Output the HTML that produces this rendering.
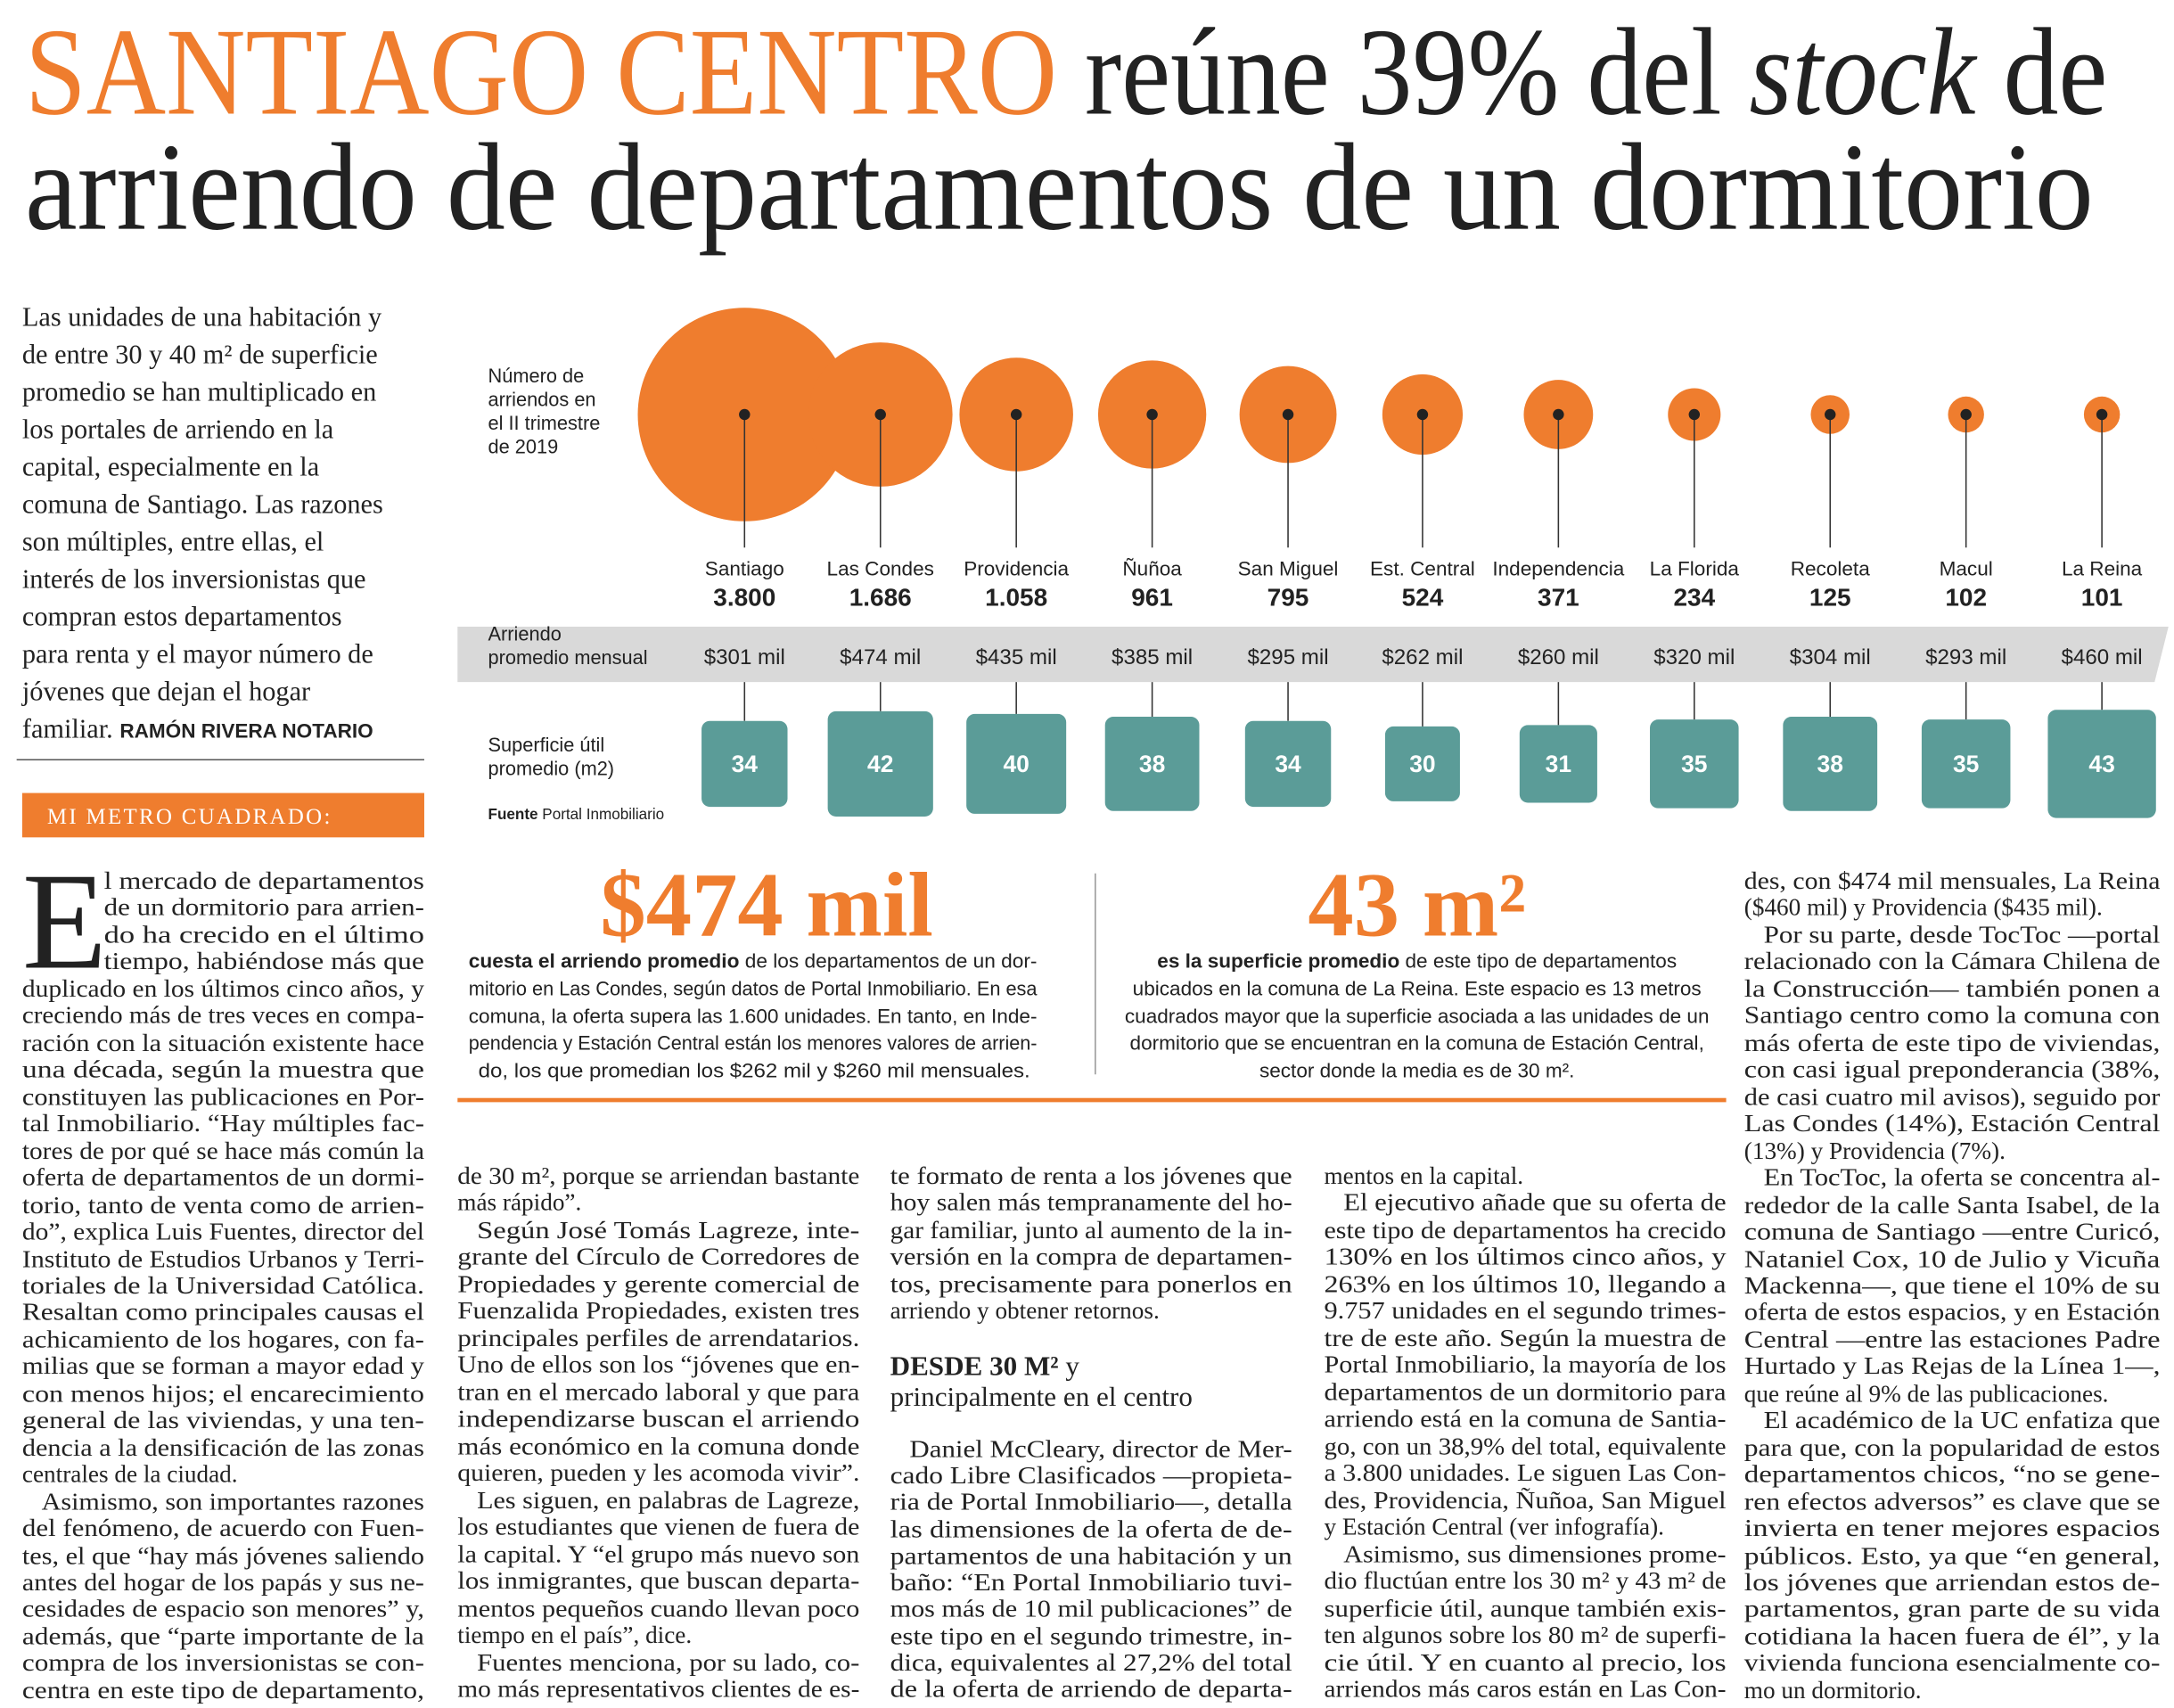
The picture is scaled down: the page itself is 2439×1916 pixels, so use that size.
<!DOCTYPE html>
<html><head><meta charset="utf-8"><style>
html,body{margin:0;padding:0;background:#fff}
svg{display:block}
.t{font-family:"Liberation Serif",serif;font-size:17.5px;fill:#222}
.s{font-family:"Liberation Sans",sans-serif;fill:#222}
.i{font-family:"Liberation Serif",serif;font-size:19.5px;fill:#222}
</style></head><body>
<svg width="2439" height="1916" viewBox="0 0 1568 1232" preserveAspectRatio="none" xmlns="http://www.w3.org/2000/svg">
<rect width="1568" height="1232" fill="#fff"/>
<!-- Title -->
<text x="18" y="82" font-family="Liberation Serif,serif" font-size="90" textLength="1502" lengthAdjust="spacingAndGlyphs" fill="#222"><tspan fill="#ef7d2e">SANTIAGO CENTRO</tspan> reúne 39% del <tspan font-style="italic">stock</tspan> de</text>
<text x="18" y="165" font-family="Liberation Serif,serif" font-size="90" textLength="1492" lengthAdjust="spacingAndGlyphs" fill="#222">arriendo de departamentos de un dormitorio</text>

<!-- Intro -->
<g class="i">
<text x="16" y="235">Las unidades de una habitación y</text>
<text x="16" y="262">de entre 30 y 40 m² de superficie</text>
<text x="16" y="289">promedio se han multiplicado en</text>
<text x="16" y="316">los portales de arriendo en la</text>
<text x="16" y="343">capital, especialmente en la</text>
<text x="16" y="370">comuna de Santiago. Las razones</text>
<text x="16" y="397">son múltiples, entre ellas, el</text>
<text x="16" y="424">interés de los inversionistas que</text>
<text x="16" y="451">compran estos departamentos</text>
<text x="16" y="478">para renta y el mayor número de</text>
<text x="16" y="505">jóvenes que dejan el hogar</text>
<text x="16" y="532">familiar. <tspan font-family="Liberation Sans,sans-serif" font-weight="bold" font-size="14.5">RAMÓN RIVERA NOTARIO</tspan></text>
</g>
<line x1="12" y1="548" x2="306" y2="548" stroke="#555" stroke-width="1"/>
<rect x="16" y="572" width="290" height="32" fill="#ef7d2e"/>
<text x="34" y="594" font-family="Liberation Serif,serif" font-size="16" fill="#fff" letter-spacing="1.5">MI METRO CUADRADO:</text>

<!-- Chart labels -->
<g class="s" font-size="14">
<text x="352" y="276">Número de</text>
<text x="352" y="293">arriendos en</text>
<text x="352" y="310">el II trimestre</text>
<text x="352" y="327">de 2019</text>
</g>
<polygon points="330,452 1564,452 1554,492 330,492" fill="#d9d9d9"/>
<g class="s" font-size="14">
<text x="352" y="462">Arriendo</text>
<text x="352" y="479">promedio mensual</text>
<text x="352" y="542">Superficie útil</text>
<text x="352" y="559">promedio (m2)</text>
</g>
<text x="352" y="591" class="s" font-size="11"><tspan font-weight="bold">Fuente</tspan> Portal Inmobiliario</text>

<!-- bubbles -->
<g fill="#ef7d2e">
<circle cx="537" cy="299" r="77"/>
<circle cx="635" cy="299" r="52"/>
<circle cx="733" cy="299" r="41"/>
<circle cx="831" cy="299" r="39"/>
<circle cx="929" cy="299" r="35"/>
<circle cx="1026" cy="299" r="29"/>
<circle cx="1124" cy="299" r="25"/>
<circle cx="1222" cy="299" r="19"/>
<circle cx="1320" cy="299" r="14"/>
<circle cx="1418" cy="299" r="13"/>
<circle cx="1516" cy="299" r="13"/>
</g>
<g stroke="#333" stroke-width="1">
<line x1="537" y1="299" x2="537" y2="395"/><line x1="635" y1="299" x2="635" y2="395"/><line x1="733" y1="299" x2="733" y2="395"/><line x1="831" y1="299" x2="831" y2="395"/><line x1="929" y1="299" x2="929" y2="395"/><line x1="1026" y1="299" x2="1026" y2="395"/><line x1="1124" y1="299" x2="1124" y2="395"/><line x1="1222" y1="299" x2="1222" y2="395"/><line x1="1320" y1="299" x2="1320" y2="395"/><line x1="1418" y1="299" x2="1418" y2="395"/><line x1="1516" y1="299" x2="1516" y2="395"/>
<line x1="537" y1="492" x2="537" y2="520"/><line x1="635" y1="492" x2="635" y2="513"/><line x1="733" y1="492" x2="733" y2="515"/><line x1="831" y1="492" x2="831" y2="517"/><line x1="929" y1="492" x2="929" y2="520"/><line x1="1026" y1="492" x2="1026" y2="524"/><line x1="1124" y1="492" x2="1124" y2="523"/><line x1="1222" y1="492" x2="1222" y2="519"/><line x1="1320" y1="492" x2="1320" y2="517"/><line x1="1418" y1="492" x2="1418" y2="519"/><line x1="1516" y1="492" x2="1516" y2="512"/>
</g>
<g fill="#222">
<circle cx="537" cy="299" r="4"/><circle cx="635" cy="299" r="4"/><circle cx="733" cy="299" r="4"/><circle cx="831" cy="299" r="4"/><circle cx="929" cy="299" r="4"/><circle cx="1026" cy="299" r="4"/><circle cx="1124" cy="299" r="4"/><circle cx="1222" cy="299" r="4"/><circle cx="1320" cy="299" r="4"/><circle cx="1418" cy="299" r="4"/><circle cx="1516" cy="299" r="4"/>
</g>
<g class="s" font-size="14.5" text-anchor="middle">
<text x="537" y="415">Santiago</text><text x="635" y="415">Las Condes</text><text x="733" y="415">Providencia</text><text x="831" y="415">Ñuñoa</text><text x="929" y="415">San Miguel</text><text x="1026" y="415">Est. Central</text><text x="1124" y="415">Independencia</text><text x="1222" y="415">La Florida</text><text x="1320" y="415">Recoleta</text><text x="1418" y="415">Macul</text><text x="1516" y="415">La Reina</text>
</g>
<g class="s" font-size="18" font-weight="bold" text-anchor="middle">
<text x="537" y="437">3.800</text><text x="635" y="437">1.686</text><text x="733" y="437">1.058</text><text x="831" y="437">961</text><text x="929" y="437">795</text><text x="1026" y="437">524</text><text x="1124" y="437">371</text><text x="1222" y="437">234</text><text x="1320" y="437">125</text><text x="1418" y="437">102</text><text x="1516" y="437">101</text>
</g>
<g class="s" font-size="15.5" text-anchor="middle">
<text x="537" y="479">$301 mil</text><text x="635" y="479">$474 mil</text><text x="733" y="479">$435 mil</text><text x="831" y="479">$385 mil</text><text x="929" y="479">$295 mil</text><text x="1026" y="479">$262 mil</text><text x="1124" y="479">$260 mil</text><text x="1222" y="479">$320 mil</text><text x="1320" y="479">$304 mil</text><text x="1418" y="479">$293 mil</text><text x="1516" y="479">$460 mil</text>
</g>
<g fill="#5b9c98">
<rect x="506" y="520" width="62" height="62" rx="6"/>
<rect x="597" y="513" width="76" height="76" rx="6"/>
<rect x="697" y="515" width="72" height="72" rx="6"/>
<rect x="797" y="517" width="68" height="68" rx="6"/>
<rect x="898" y="520" width="62" height="62" rx="6"/>
<rect x="999" y="524" width="54" height="54" rx="6"/>
<rect x="1096" y="523" width="56" height="56" rx="6"/>
<rect x="1190" y="519" width="64" height="64" rx="6"/>
<rect x="1286" y="517" width="68" height="68" rx="6"/>
<rect x="1386" y="519" width="64" height="64" rx="6"/>
<rect x="1477" y="512" width="78" height="78" rx="6"/>
</g>
<g class="s" font-size="17" font-weight="bold" text-anchor="middle" style="fill:#fff">
<text x="537" y="557">34</text><text x="635" y="557">42</text><text x="733" y="557">40</text><text x="831" y="557">38</text><text x="929" y="557">34</text><text x="1026" y="557">30</text><text x="1124" y="557">31</text><text x="1222" y="557">35</text><text x="1320" y="557">38</text><text x="1418" y="557">35</text><text x="1516" y="557">43</text>
</g>

<!-- Stats -->
<text x="553" y="675" text-anchor="middle" font-family="Liberation Serif,serif" font-weight="bold" font-size="66" fill="#ef7d2e">$474 mil</text>
<text x="1022" y="675" text-anchor="middle" font-family="Liberation Serif,serif" font-weight="bold" font-size="66" fill="#ef7d2e">43 m²</text>
<g class="s" font-size="14.5">
<text x="338" y="698" textLength="410" lengthAdjust="spacingAndGlyphs"><tspan font-weight="bold">cuesta el arriendo promedio</tspan> de los departamentos de un dor-</text>
<text x="338" y="718" textLength="410" lengthAdjust="spacingAndGlyphs">mitorio en Las Condes, según datos de Portal Inmobiliario. En esa</text>
<text x="338" y="738" textLength="410" lengthAdjust="spacingAndGlyphs">comuna, la oferta supera las 1.600 unidades. En tanto, en Inde-</text>
<text x="338" y="757" textLength="410" lengthAdjust="spacingAndGlyphs">pendencia y Estación Central están los menores valores de arrien-</text>
<text x="345" y="777" textLength="398" lengthAdjust="spacingAndGlyphs">do, los que promedian los $262 mil y $260 mil mensuales.</text>
</g>
<g class="s" font-size="14.5" text-anchor="middle">
<text x="1022" y="698"><tspan font-weight="bold">es la superficie promedio</tspan> de este tipo de departamentos</text>
<text x="1022" y="718">ubicados en la comuna de La Reina. Este espacio es 13 metros</text>
<text x="1022" y="738">cuadrados mayor que la superficie asociada a las unidades de un</text>
<text x="1022" y="757">dormitorio que se encuentran en la comuna de Estación Central,</text>
<text x="1022" y="777">sector donde la media es de 30 m².</text>
</g>
<line x1="790" y1="630" x2="790" y2="775" stroke="#999" stroke-width="1"/>
<rect x="330" y="792" width="915" height="3" fill="#ef7d2e"/>

<!-- Left column -->
<text x="16" y="698" font-family="Liberation Serif,serif" font-size="100" fill="#222">E</text>
<g class="t">
<text x="75" y="641" textLength="231" lengthAdjust="spacingAndGlyphs">l mercado de departamentos</text>
<text x="75" y="660" textLength="231" lengthAdjust="spacingAndGlyphs">de un dormitorio para arrien-</text>
<text x="75" y="680" textLength="231" lengthAdjust="spacingAndGlyphs">do ha crecido en el último</text>
<text x="75" y="699" textLength="231" lengthAdjust="spacingAndGlyphs">tiempo, habiéndose más que</text>
<text x="16" y="719" textLength="290" lengthAdjust="spacingAndGlyphs">duplicado en los últimos cinco años, y</text>
<text x="16" y="738" textLength="290" lengthAdjust="spacingAndGlyphs">creciendo más de tres veces en compa-</text>
<text x="16" y="758" textLength="290" lengthAdjust="spacingAndGlyphs">ración con la situación existente hace</text>
<text x="16" y="777" textLength="290" lengthAdjust="spacingAndGlyphs">una década, según la muestra que</text>
<text x="16" y="797" textLength="290" lengthAdjust="spacingAndGlyphs">constituyen las publicaciones en Por-</text>
<text x="16" y="816" textLength="290" lengthAdjust="spacingAndGlyphs">tal Inmobiliario. “Hay múltiples fac-</text>
<text x="16" y="836" textLength="290" lengthAdjust="spacingAndGlyphs">tores de por qué se hace más común la</text>
<text x="16" y="855" textLength="290" lengthAdjust="spacingAndGlyphs">oferta de departamentos de un dormi-</text>
<text x="16" y="875" textLength="290" lengthAdjust="spacingAndGlyphs">torio, tanto de venta como de arrien-</text>
<text x="16" y="894" textLength="290" lengthAdjust="spacingAndGlyphs">do”, explica Luis Fuentes, director del</text>
<text x="16" y="914" textLength="290" lengthAdjust="spacingAndGlyphs">Instituto de Estudios Urbanos y Terri-</text>
<text x="16" y="933" textLength="290" lengthAdjust="spacingAndGlyphs">toriales de la Universidad Católica.</text>
<text x="16" y="952" textLength="290" lengthAdjust="spacingAndGlyphs">Resaltan como principales causas el</text>
<text x="16" y="972" textLength="290" lengthAdjust="spacingAndGlyphs">achicamiento de los hogares, con fa-</text>
<text x="16" y="991" textLength="290" lengthAdjust="spacingAndGlyphs">milias que se forman a mayor edad y</text>
<text x="16" y="1011" textLength="290" lengthAdjust="spacingAndGlyphs">con menos hijos; el encarecimiento</text>
<text x="16" y="1030" textLength="290" lengthAdjust="spacingAndGlyphs">general de las viviendas, y una ten-</text>
<text x="16" y="1050" textLength="290" lengthAdjust="spacingAndGlyphs">dencia a la densificación de las zonas</text>
<text x="16" y="1069">centrales de la ciudad.</text>
<text x="30" y="1089" textLength="276" lengthAdjust="spacingAndGlyphs">Asimismo, son importantes razones</text>
<text x="16" y="1108" textLength="290" lengthAdjust="spacingAndGlyphs">del fenómeno, de acuerdo con Fuen-</text>
<text x="16" y="1128" textLength="290" lengthAdjust="spacingAndGlyphs">tes, el que “hay más jóvenes saliendo</text>
<text x="16" y="1147" textLength="290" lengthAdjust="spacingAndGlyphs">antes del hogar de los papás y sus ne-</text>
<text x="16" y="1166" textLength="290" lengthAdjust="spacingAndGlyphs">cesidades de espacio son menores” y,</text>
<text x="16" y="1186" textLength="290" lengthAdjust="spacingAndGlyphs">además, que “parte importante de la</text>
<text x="16" y="1205" textLength="290" lengthAdjust="spacingAndGlyphs">compra de los inversionistas se con-</text>
<text x="16" y="1225" textLength="290" lengthAdjust="spacingAndGlyphs">centra en este tipo de departamento,</text>
</g>

<!-- Column 2 -->
<g class="t">
<text x="330" y="854" textLength="290" lengthAdjust="spacingAndGlyphs">de 30 m², porque se arriendan bastante</text>
<text x="330" y="873">más rápido”.</text>
<text x="344" y="893" textLength="276" lengthAdjust="spacingAndGlyphs">Según José Tomás Lagreze, inte-</text>
<text x="330" y="912" textLength="290" lengthAdjust="spacingAndGlyphs">grante del Círculo de Corredores de</text>
<text x="330" y="932" textLength="290" lengthAdjust="spacingAndGlyphs">Propiedades y gerente comercial de</text>
<text x="330" y="951" textLength="290" lengthAdjust="spacingAndGlyphs">Fuenzalida Propiedades, existen tres</text>
<text x="330" y="971" textLength="290" lengthAdjust="spacingAndGlyphs">principales perfiles de arrendatarios.</text>
<text x="330" y="990" textLength="290" lengthAdjust="spacingAndGlyphs">Uno de ellos son los “jóvenes que en-</text>
<text x="330" y="1010" textLength="290" lengthAdjust="spacingAndGlyphs">tran en el mercado laboral y que para</text>
<text x="330" y="1029" textLength="290" lengthAdjust="spacingAndGlyphs">independizarse buscan el arriendo</text>
<text x="330" y="1049" textLength="290" lengthAdjust="spacingAndGlyphs">más económico en la comuna donde</text>
<text x="330" y="1068" textLength="290" lengthAdjust="spacingAndGlyphs">quieren, pueden y les acomoda vivir”.</text>
<text x="344" y="1088" textLength="276" lengthAdjust="spacingAndGlyphs">Les siguen, en palabras de Lagreze,</text>
<text x="330" y="1107" textLength="290" lengthAdjust="spacingAndGlyphs">los estudiantes que vienen de fuera de</text>
<text x="330" y="1127" textLength="290" lengthAdjust="spacingAndGlyphs">la capital. Y “el grupo más nuevo son</text>
<text x="330" y="1146" textLength="290" lengthAdjust="spacingAndGlyphs">los inmigrantes, que buscan departa-</text>
<text x="330" y="1166" textLength="290" lengthAdjust="spacingAndGlyphs">mentos pequeños cuando llevan poco</text>
<text x="330" y="1185">tiempo en el país”, dice.</text>
<text x="344" y="1205" textLength="276" lengthAdjust="spacingAndGlyphs">Fuentes menciona, por su lado, co-</text>
<text x="330" y="1224" textLength="290" lengthAdjust="spacingAndGlyphs">mo más representativos clientes de es-</text>
</g>

<!-- Column 3 -->
<g class="t">
<text x="642" y="854" textLength="290" lengthAdjust="spacingAndGlyphs">te formato de renta a los jóvenes que</text>
<text x="642" y="873" textLength="290" lengthAdjust="spacingAndGlyphs">hoy salen más tempranamente del ho-</text>
<text x="642" y="893" textLength="290" lengthAdjust="spacingAndGlyphs">gar familiar, junto al aumento de la in-</text>
<text x="642" y="912" textLength="290" lengthAdjust="spacingAndGlyphs">versión en la compra de departamen-</text>
<text x="642" y="932" textLength="290" lengthAdjust="spacingAndGlyphs">tos, precisamente para ponerlos en</text>
<text x="642" y="951">arriendo y obtener retornos.</text>
</g>
<text x="642" y="992" font-family="Liberation Serif,serif" font-size="20" fill="#222"><tspan font-weight="bold">DESDE 30 M²</tspan> y</text>
<text x="642" y="1014" font-family="Liberation Serif,serif" font-size="20" fill="#222">principalmente en el centro</text>
<g class="t">
<text x="656" y="1051" textLength="276" lengthAdjust="spacingAndGlyphs">Daniel McCleary, director de Mer-</text>
<text x="642" y="1070" textLength="290" lengthAdjust="spacingAndGlyphs">cado Libre Clasificados —propieta-</text>
<text x="642" y="1089" textLength="290" lengthAdjust="spacingAndGlyphs">ria de Portal Inmobiliario—, detalla</text>
<text x="642" y="1109" textLength="290" lengthAdjust="spacingAndGlyphs">las dimensiones de la oferta de de-</text>
<text x="642" y="1128" textLength="290" lengthAdjust="spacingAndGlyphs">partamentos de una habitación y un</text>
<text x="642" y="1147" textLength="290" lengthAdjust="spacingAndGlyphs">baño: “En Portal Inmobiliario tuvi-</text>
<text x="642" y="1166" textLength="290" lengthAdjust="spacingAndGlyphs">mos más de 10 mil publicaciones” de</text>
<text x="642" y="1186" textLength="290" lengthAdjust="spacingAndGlyphs">este tipo en el segundo trimestre, in-</text>
<text x="642" y="1205" textLength="290" lengthAdjust="spacingAndGlyphs">dica, equivalentes al 27,2% del total</text>
<text x="642" y="1224" textLength="290" lengthAdjust="spacingAndGlyphs">de la oferta de arriendo de departa-</text>
</g>

<!-- Column 4 -->
<g class="t">
<text x="955" y="854">mentos en la capital.</text>
<text x="969" y="873" textLength="276" lengthAdjust="spacingAndGlyphs">El ejecutivo añade que su oferta de</text>
<text x="955" y="893" textLength="290" lengthAdjust="spacingAndGlyphs">este tipo de departamentos ha crecido</text>
<text x="955" y="912" textLength="290" lengthAdjust="spacingAndGlyphs">130% en los últimos cinco años, y</text>
<text x="955" y="932" textLength="290" lengthAdjust="spacingAndGlyphs">263% en los últimos 10, llegando a</text>
<text x="955" y="951" textLength="290" lengthAdjust="spacingAndGlyphs">9.757 unidades en el segundo trimes-</text>
<text x="955" y="971" textLength="290" lengthAdjust="spacingAndGlyphs">tre de este año. Según la muestra de</text>
<text x="955" y="990" textLength="290" lengthAdjust="spacingAndGlyphs">Portal Inmobiliario, la mayoría de los</text>
<text x="955" y="1010" textLength="290" lengthAdjust="spacingAndGlyphs">departamentos de un dormitorio para</text>
<text x="955" y="1029" textLength="290" lengthAdjust="spacingAndGlyphs">arriendo está en la comuna de Santia-</text>
<text x="955" y="1049" textLength="290" lengthAdjust="spacingAndGlyphs">go, con un 38,9% del total, equivalente</text>
<text x="955" y="1068" textLength="290" lengthAdjust="spacingAndGlyphs">a 3.800 unidades. Le siguen Las Con-</text>
<text x="955" y="1088" textLength="290" lengthAdjust="spacingAndGlyphs">des, Providencia, Ñuñoa, San Miguel</text>
<text x="955" y="1107">y Estación Central (ver infografía).</text>
<text x="969" y="1127" textLength="276" lengthAdjust="spacingAndGlyphs">Asimismo, sus dimensiones prome-</text>
<text x="955" y="1146" textLength="290" lengthAdjust="spacingAndGlyphs">dio fluctúan entre los 30 m² y 43 m² de</text>
<text x="955" y="1166" textLength="290" lengthAdjust="spacingAndGlyphs">superficie útil, aunque también exis-</text>
<text x="955" y="1185" textLength="290" lengthAdjust="spacingAndGlyphs">ten algunos sobre los 80 m² de superfi-</text>
<text x="955" y="1205" textLength="290" lengthAdjust="spacingAndGlyphs">cie útil. Y en cuanto al precio, los</text>
<text x="955" y="1224" textLength="290" lengthAdjust="spacingAndGlyphs">arriendos más caros están en Las Con-</text>
</g>

<!-- Column 5 -->
<g class="t">
<text x="1258" y="641" textLength="300" lengthAdjust="spacingAndGlyphs">des, con $474 mil mensuales, La Reina</text>
<text x="1258" y="660">($460 mil) y Providencia ($435 mil).</text>
<text x="1272" y="680" textLength="286" lengthAdjust="spacingAndGlyphs">Por su parte, desde TocToc —portal</text>
<text x="1258" y="699" textLength="300" lengthAdjust="spacingAndGlyphs">relacionado con la Cámara Chilena de</text>
<text x="1258" y="719" textLength="300" lengthAdjust="spacingAndGlyphs">la Construcción— también ponen a</text>
<text x="1258" y="738" textLength="300" lengthAdjust="spacingAndGlyphs">Santiago centro como la comuna con</text>
<text x="1258" y="758" textLength="300" lengthAdjust="spacingAndGlyphs">más oferta de este tipo de viviendas,</text>
<text x="1258" y="777" textLength="300" lengthAdjust="spacingAndGlyphs">con casi igual preponderancia (38%,</text>
<text x="1258" y="797" textLength="300" lengthAdjust="spacingAndGlyphs">de casi cuatro mil avisos), seguido por</text>
<text x="1258" y="816" textLength="300" lengthAdjust="spacingAndGlyphs">Las Condes (14%), Estación Central</text>
<text x="1258" y="836">(13%) y Providencia (7%).</text>
<text x="1272" y="855" textLength="286" lengthAdjust="spacingAndGlyphs">En TocToc, la oferta se concentra al-</text>
<text x="1258" y="875" textLength="300" lengthAdjust="spacingAndGlyphs">rededor de la calle Santa Isabel, de la</text>
<text x="1258" y="894" textLength="300" lengthAdjust="spacingAndGlyphs">comuna de Santiago —entre Curicó,</text>
<text x="1258" y="914" textLength="300" lengthAdjust="spacingAndGlyphs">Nataniel Cox, 10 de Julio y Vicuña</text>
<text x="1258" y="933" textLength="300" lengthAdjust="spacingAndGlyphs">Mackenna—, que tiene el 10% de su</text>
<text x="1258" y="952" textLength="300" lengthAdjust="spacingAndGlyphs">oferta de estos espacios, y en Estación</text>
<text x="1258" y="972" textLength="300" lengthAdjust="spacingAndGlyphs">Central —entre las estaciones Padre</text>
<text x="1258" y="991" textLength="300" lengthAdjust="spacingAndGlyphs">Hurtado y Las Rejas de la Línea 1—,</text>
<text x="1258" y="1011">que reúne al 9% de las publicaciones.</text>
<text x="1272" y="1030" textLength="286" lengthAdjust="spacingAndGlyphs">El académico de la UC enfatiza que</text>
<text x="1258" y="1050" textLength="300" lengthAdjust="spacingAndGlyphs">para que, con la popularidad de estos</text>
<text x="1258" y="1069" textLength="300" lengthAdjust="spacingAndGlyphs">departamentos chicos, “no se gene-</text>
<text x="1258" y="1089" textLength="300" lengthAdjust="spacingAndGlyphs">ren efectos adversos” es clave que se</text>
<text x="1258" y="1108" textLength="300" lengthAdjust="spacingAndGlyphs">invierta en tener mejores espacios</text>
<text x="1258" y="1128" textLength="300" lengthAdjust="spacingAndGlyphs">públicos. Esto, ya que “en general,</text>
<text x="1258" y="1147" textLength="300" lengthAdjust="spacingAndGlyphs">los jóvenes que arriendan estos de-</text>
<text x="1258" y="1166" textLength="300" lengthAdjust="spacingAndGlyphs">partamentos, gran parte de su vida</text>
<text x="1258" y="1186" textLength="300" lengthAdjust="spacingAndGlyphs">cotidiana la hacen fuera de él”, y la</text>
<text x="1258" y="1205" textLength="300" lengthAdjust="spacingAndGlyphs">vivienda funciona esencialmente co-</text>
<text x="1258" y="1225">mo un dormitorio.</text>
</g>
</svg>
</body></html>
